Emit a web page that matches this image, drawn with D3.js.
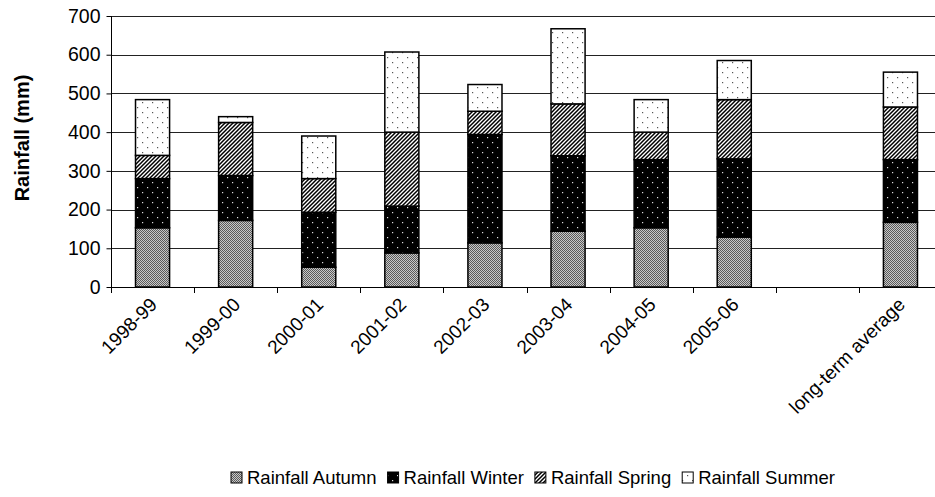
<!DOCTYPE html>
<html>
<head>
<meta charset="utf-8">
<script src="https://cdn.jsdelivr.net/npm/d3@7"></script>
<style>
  html, body { margin: 0; padding: 0; background: #fff; }
  svg { display: block; }
  text { font-family: "Liberation Sans", Arial, sans-serif; }
</style>
</head>
<body>
<svg id="chart" width="935" height="497"></svg>
<script>
const categories = ["1998-99","1999-00","2000-01","2001-02","2002-03","2003-04","2004-05","2005-06","","long-term average"];
const autumn = [153,172,51,88,114,144,153,129,0,167];
const winter = [127,116,142,121,280,195,176,202,0,162];
const spring = [60,137,87,191,60,134,71,153,0,136];
const summer = [144,15,110,207,69,194,84,101,0,90];
const seriesNames = ["Rainfall Autumn","Rainfall Winter","Rainfall Spring","Rainfall Summer"];
const yTicks = [0,100,200,300,400,500,600,700];

const svg = d3.select("#chart");
const margin = {left: 111, top: 16, right: 942, bottom: 287};

// patterns
const defs = svg.append("defs");
const pA = defs.append("pattern").attr("id","pA").attr("patternUnits","userSpaceOnUse").attr("width",2).attr("height",2);
pA.append("rect").attr("width",2).attr("height",2).attr("fill","#c8c8c8");
pA.append("rect").attr("x",0).attr("y",0).attr("width",1).attr("height",1).attr("fill","#5a5a5a");
pA.append("rect").attr("x",1).attr("y",1).attr("width",1).attr("height",1).attr("fill","#5a5a5a");

const pW = defs.append("pattern").attr("id","pW").attr("patternUnits","userSpaceOnUse").attr("width",10).attr("height",10);
pW.append("rect").attr("width",10).attr("height",10).attr("fill","#000");
pW.append("rect").attr("x",2).attr("y",2).attr("width",1.2).attr("height",1.2).attr("fill","#ddd");
pW.append("rect").attr("x",7).attr("y",7).attr("width",1.2).attr("height",1.2).attr("fill","#ddd");

const pS = defs.append("pattern").attr("id","pS").attr("patternUnits","userSpaceOnUse").attr("width",4).attr("height",4);
pS.append("rect").attr("width",4).attr("height",4).attr("fill","#fff");
pS.append("path").attr("d","M-1,1L1,-1M0,4L4,0M3,5L5,3").attr("stroke","#000").attr("stroke-width",1.5);

const pU = defs.append("pattern").attr("id","pU").attr("patternUnits","userSpaceOnUse").attr("width",10).attr("height",10);
pU.append("rect").attr("width",10).attr("height",10).attr("fill","#fff");
pU.append("rect").attr("x",2).attr("y",2).attr("width",1.2).attr("height",1.2).attr("fill","#555");
pU.append("rect").attr("x",7).attr("y",7).attr("width",1.2).attr("height",1.2).attr("fill","#555");

const fills = ["url(#pA)","url(#pW)","url(#pS)","url(#pU)"];

const x = d3.scaleBand().domain(categories).range([margin.left, margin.right]).paddingInner(0).paddingOuter(0);
const y = d3.scaleLinear().domain([0,700]).range([margin.bottom, margin.top]);

// gridlines
svg.append("g").selectAll("line").data(yTicks.filter(d => d > 0)).join("line")
  .attr("x1", margin.left).attr("x2", 935)
  .attr("y1", d => Math.round(y(d)) + 0.5).attr("y2", d => Math.round(y(d)) + 0.5)
  .attr("stroke", "#222").attr("stroke-width", 1);

// stacked data
const table = categories.map((c,i) => ({cat: c, a: autumn[i], w: winter[i], s: spring[i], u: summer[i]}));
const stack = d3.stack().keys(["a","w","s","u"]);
const stacked = stack(table);

const bw = x.bandwidth() * 0.41;
const off = (x.bandwidth() - bw) / 2;

stacked.forEach((layer, k) => {
  svg.append("g").selectAll("rect").data(layer.filter(d => d[1] - d[0] > 0)).join("rect")
    .attr("x", d => x(d.data.cat) + off)
    .attr("width", bw)
    .attr("y", d => y(d[1]))
    .attr("height", d => y(d[0]) - y(d[1]))
    .attr("fill", fills[k])
    .attr("stroke", "#000")
    .attr("stroke-width", 1.5);
});

// y axis
const yAxis = svg.append("g").attr("transform", `translate(${margin.left + 0.5},0)`)
  .call(d3.axisLeft(y).tickValues(yTicks).tickSize(5).tickPadding(6).tickFormat(d3.format("d")));
yAxis.selectAll("text").attr("font-size", 19.5).attr("fill", "#000").attr("font-family", "Liberation Sans, Arial, sans-serif");
yAxis.selectAll("line").attr("stroke", "#000");
yAxis.select(".domain").attr("stroke", "#000").attr("d", `M0,${margin.top}V${margin.bottom}`);

// x axis line + ticks at band boundaries
const xg = svg.append("g");
xg.append("line").attr("x1", margin.left).attr("x2", 935)
  .attr("y1", Math.round(y(0)) + 0.5).attr("y2", Math.round(y(0)) + 0.5).attr("stroke", "#000");
const bounds = categories.map(c => x(c)).concat([x(categories[categories.length-1]) + x.bandwidth()]);
xg.selectAll("line.t").data(bounds).join("line").attr("class","t")
  .attr("x1", d => Math.round(d) + 0.5).attr("x2", d => Math.round(d) + 0.5)
  .attr("y1", Math.round(y(0))).attr("y2", Math.round(y(0)) + 6).attr("stroke", "#000");

// x labels
xg.selectAll("text").data(categories).join("text")
  .attr("transform", c => `translate(${x(c) + x.bandwidth()/2 + 1},${y(0) + 14}) rotate(-45)`)
  .attr("text-anchor", "end")
  .attr("dy", "0.35em")
  .attr("font-size", 19)
  .attr("fill", "#000")
  .text(c => c);

// y title
svg.append("text")
  .attr("transform", `translate(29,138) rotate(-90)`)
  .attr("text-anchor", "middle")
  .attr("font-size", 20)
  .attr("font-weight", "bold")
  .text("Rainfall (mm)");

// legend
const legend = svg.append("g").attr("transform", "translate(0,478)");
let lx = 231;
seriesNames.forEach((name, k) => {
  legend.append("rect").attr("x", lx).attr("y", -6).attr("width", 11).attr("height", 11)
    .attr("fill", fills[k]).attr("stroke", "#000").attr("stroke-width", 1);
  const t = legend.append("text").attr("x", lx + 16).attr("y", 0).attr("dy", "0.35em")
    .attr("font-size", 18.5).text(name);
  lx += 16 + t.node().getComputedTextLength() + 11;
});
</script>
</body>
</html>
